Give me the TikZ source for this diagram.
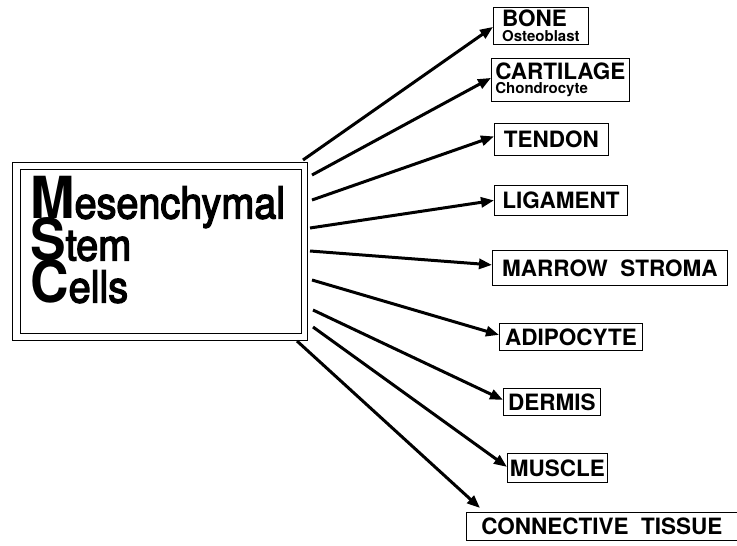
\documentclass[tikz,border=0pt]{standalone}
\usepackage{fontspec}
\setmainfont{TeX Gyre Heros}
\newfontfamily\mscfont[FakeStretch=0.9,FakeBold=3]{TeX Gyre Heros}
\newfontfamily\mscbig[FakeStretch=0.92]{TeX Gyre Heros Bold}
\newcommand\mynolsl{\lineskiplimit=-100pt\relax}
\newcommand\mybig[1]{{\mscbig\fontsize{58}{42}\selectfont #1}}
\usetikzlibrary{arrows.meta}
\begin{document}
\begin{tikzpicture}[x=1pt,y=-1pt,
  lbl/.style={draw, line width=0.8pt, inner sep=1pt, font={\bfseries\fontsize{22.5}{24}\selectfont}},
  lbltwo/.style={lbl, align=left, font={\bfseries\fontsize{22.5}{14.5}\selectfont\mynolsl}},
  arr/.style={line width=3pt, -{Triangle[length=13pt,width=10pt]}},
  msctext/.style={anchor=north west, inner sep=0pt, align=left,
    font={\mscfont\fontsize{44}{42}\selectfont\mynolsl}}]
\useasboundingbox (0,0) rectangle (737,546);
% MSC box
\node[draw, line width=0.9pt, anchor=north west, minimum width=295pt, minimum height=178pt, inner sep=0pt] (msc) at (12,162) {};
\draw[line width=0.9pt] ([shift={(8,7)}]msc.north west) rectangle ([shift={(-6,-7)}]msc.south east);
\node[msctext] (mtext) at (30,176) {\mybig{M}esenchymal\\\mybig{S}tem\\\mybig{C}ells};
% targets
\node[lbltwo, anchor=north west, minimum width=95pt, minimum height=37pt] (bone) at (493,7) {BONE\\{\bfseries\fontsize{15}{14.5}\selectfont Osteoblast}};
\node[lbltwo, anchor=north west, minimum width=138pt, minimum height=43pt] (cart) at (491,58) {CARTILAGE\\{\bfseries\fontsize{15}{14.5}\selectfont Chondrocyte}};
\node[lbl, anchor=north west, minimum width=114pt, minimum height=32pt] (tend) at (494,123) {TENDON};
\node[lbl, anchor=north west, minimum width=133pt, minimum height=30pt] (liga) at (494,185) {LIGAMENT};
\node[lbl, anchor=north west, minimum width=235pt, minimum height=35pt] (marr) at (492,250) {MARROW\ \ STROMA};
\node[lbl, anchor=north west, minimum width=143pt, minimum height=27pt] (adip) at (499,323) {ADIPOCYTE};
\node[lbl, anchor=north west, minimum width=97pt, minimum height=27pt] (derm) at (503,388) {DERMIS};
\node[lbl, anchor=north west, minimum width=100pt, minimum height=29pt] (musc) at (507,453) {MUSCLE};
\node[lbl, anchor=north west, minimum width=271pt, minimum height=28pt] (conn) at (466,512) {CONNECTIVE\ \ TISSUE};
% start points
\coordinate (s1) at (303,160);
\coordinate (s2) at (312,175);
\coordinate (s3) at (312,200);
\coordinate (s4) at (310,228);
\coordinate (s5) at (310,251);
\coordinate (s6) at (312,280);
\coordinate (s7) at (313,310);
\coordinate (s8) at (313,327);
\coordinate (s9) at (297,341);
\coordinate (e9) at ([shift={(14,-4)}]conn.north west);
% arrows
\draw[arr] (s1) -- ([yshift=-1pt]bone.west);
\draw[arr] (s2) -- ([yshift=2pt]cart.west);
\draw[arr] (s3) -- ([yshift=3pt]tend.west);
\draw[arr] (s4) -- (liga.west);
\draw[arr] (s5) -- ([yshift=3pt]marr.west);
\draw[arr] (s6) -- ([yshift=2pt]adip.west);
\draw[arr] (s7) -- ([yshift=2pt]derm.west);
\draw[arr] (s8) -- ([yshift=1pt]musc.west);
\draw[arr] (s9) -- (e9);
\end{tikzpicture}
\end{document}
